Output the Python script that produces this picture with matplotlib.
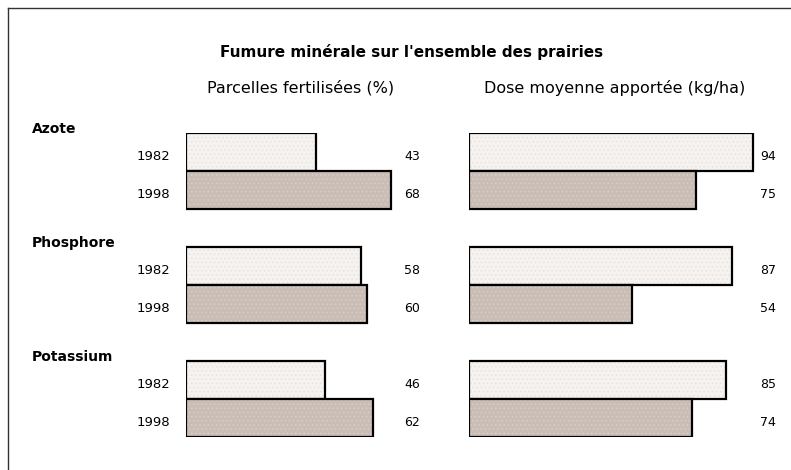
import matplotlib
matplotlib.use("Agg")
import matplotlib.pyplot as plt
from matplotlib.lines import Line2D

# data
nutrients = ["Azote", "Phosphore", "Potassium"]
years = ["1982", "1998"]
parcelles_1982 = [43, 58, 46]
parcelles_1998 = [68, 60, 62]
dose_1982 = [94, 87, 85]
dose_1998 = [75, 54, 74]

title = "Fumure minérale sur l'ensemble des prairies"
left_title = "Parcelles fertilisées (%)"
right_title = "Dose moyenne apportée (kg/ha)"

c_1982 = "#f5f2ef"
c_1998 = "#c9bdb5"

W, H = 791, 470
fig = plt.figure(figsize=(W / 100, H / 100), dpi=100)
plt.rcParams["hatch.linewidth"] = 0.6

# one unit of value = 3.02 px in both panels
px_per_unit = 3.02
top_px, bot_px = 133, 437


def make_axes(x0_px, width_px):
    ax = fig.add_axes([x0_px / W, 1 - bot_px / H, width_px / W,
                       (bot_px - top_px) / H])
    ax.set_xlim(0, width_px / px_per_unit)
    ax.set_ylim(7.5, -0.5)
    ax.set_axis_off()
    return ax


def draw_panel(ax, v82, v98, label_x):
    pos82 = [3 * i for i in range(len(nutrients))]
    pos98 = [3 * i + 1 for i in range(len(nutrients))]
    for pos, vals, col, hc in [(pos82, v82, c_1982, "#e8e3de"),
                               (pos98, v98, c_1998, "#d8cfc8")]:
        ax.barh(pos, vals, height=1.0, color=col, edgecolor="none")
        ax.barh(pos, vals, height=1.0, fill=False, hatch="....",
                edgecolor=hc, linewidth=0)
        ax.barh(pos, vals, height=1.0, fill=False, edgecolor="black",
                linewidth=1.6)
        for p, v in zip(pos, vals):
            ax.annotate(str(v), xy=(label_x, p), xytext=(0, -5),
                        textcoords="offset pixels", ha="center",
                        va="center", fontsize=9)


ax_l = make_axes(186, 240)
ax_r = make_axes(469, 320)

draw_panel(ax_l, parcelles_1982, parcelles_1998, 74.8)
draw_panel(ax_r, dose_1982, dose_1998, 99)

# year labels left of the first panel
for i in range(len(nutrients)):
    for j, yr in enumerate(years):
        ax_l.annotate(yr, xy=(0, 3 * i + j),
                      xycoords=("axes fraction", "data"),
                      xytext=(-16, -5), textcoords="offset pixels",
                      ha="right", va="center", fontsize=9.5)

for i, name in enumerate(nutrients):
    ax_l.annotate(name, xy=(32, 3 * i - 0.6),
                  xycoords=("figure pixels", "data"),
                  ha="left", va="center", fontsize=10, fontweight="bold")

fig.text(412 / W, 1 - 52 / H, title, ha="center", va="center",
         fontsize=11, fontweight="bold")
fig.text(301 / W, 1 - 88 / H, left_title, ha="center", va="center",
         fontsize=11.5)
fig.text(615 / W, 1 - 88 / H, right_title, ha="center", va="center",
         fontsize=11.5)

# frame: top and left border only
fig.add_artist(Line2D([8 / W, 1], [1 - 8 / H, 1 - 8 / H],
                      transform=fig.transFigure, color="#333333", lw=1))
fig.add_artist(Line2D([8 / W, 8 / W], [0, 1 - 8 / H],
                      transform=fig.transFigure, color="#333333", lw=1))

fig.savefig("out.png", dpi=100)
